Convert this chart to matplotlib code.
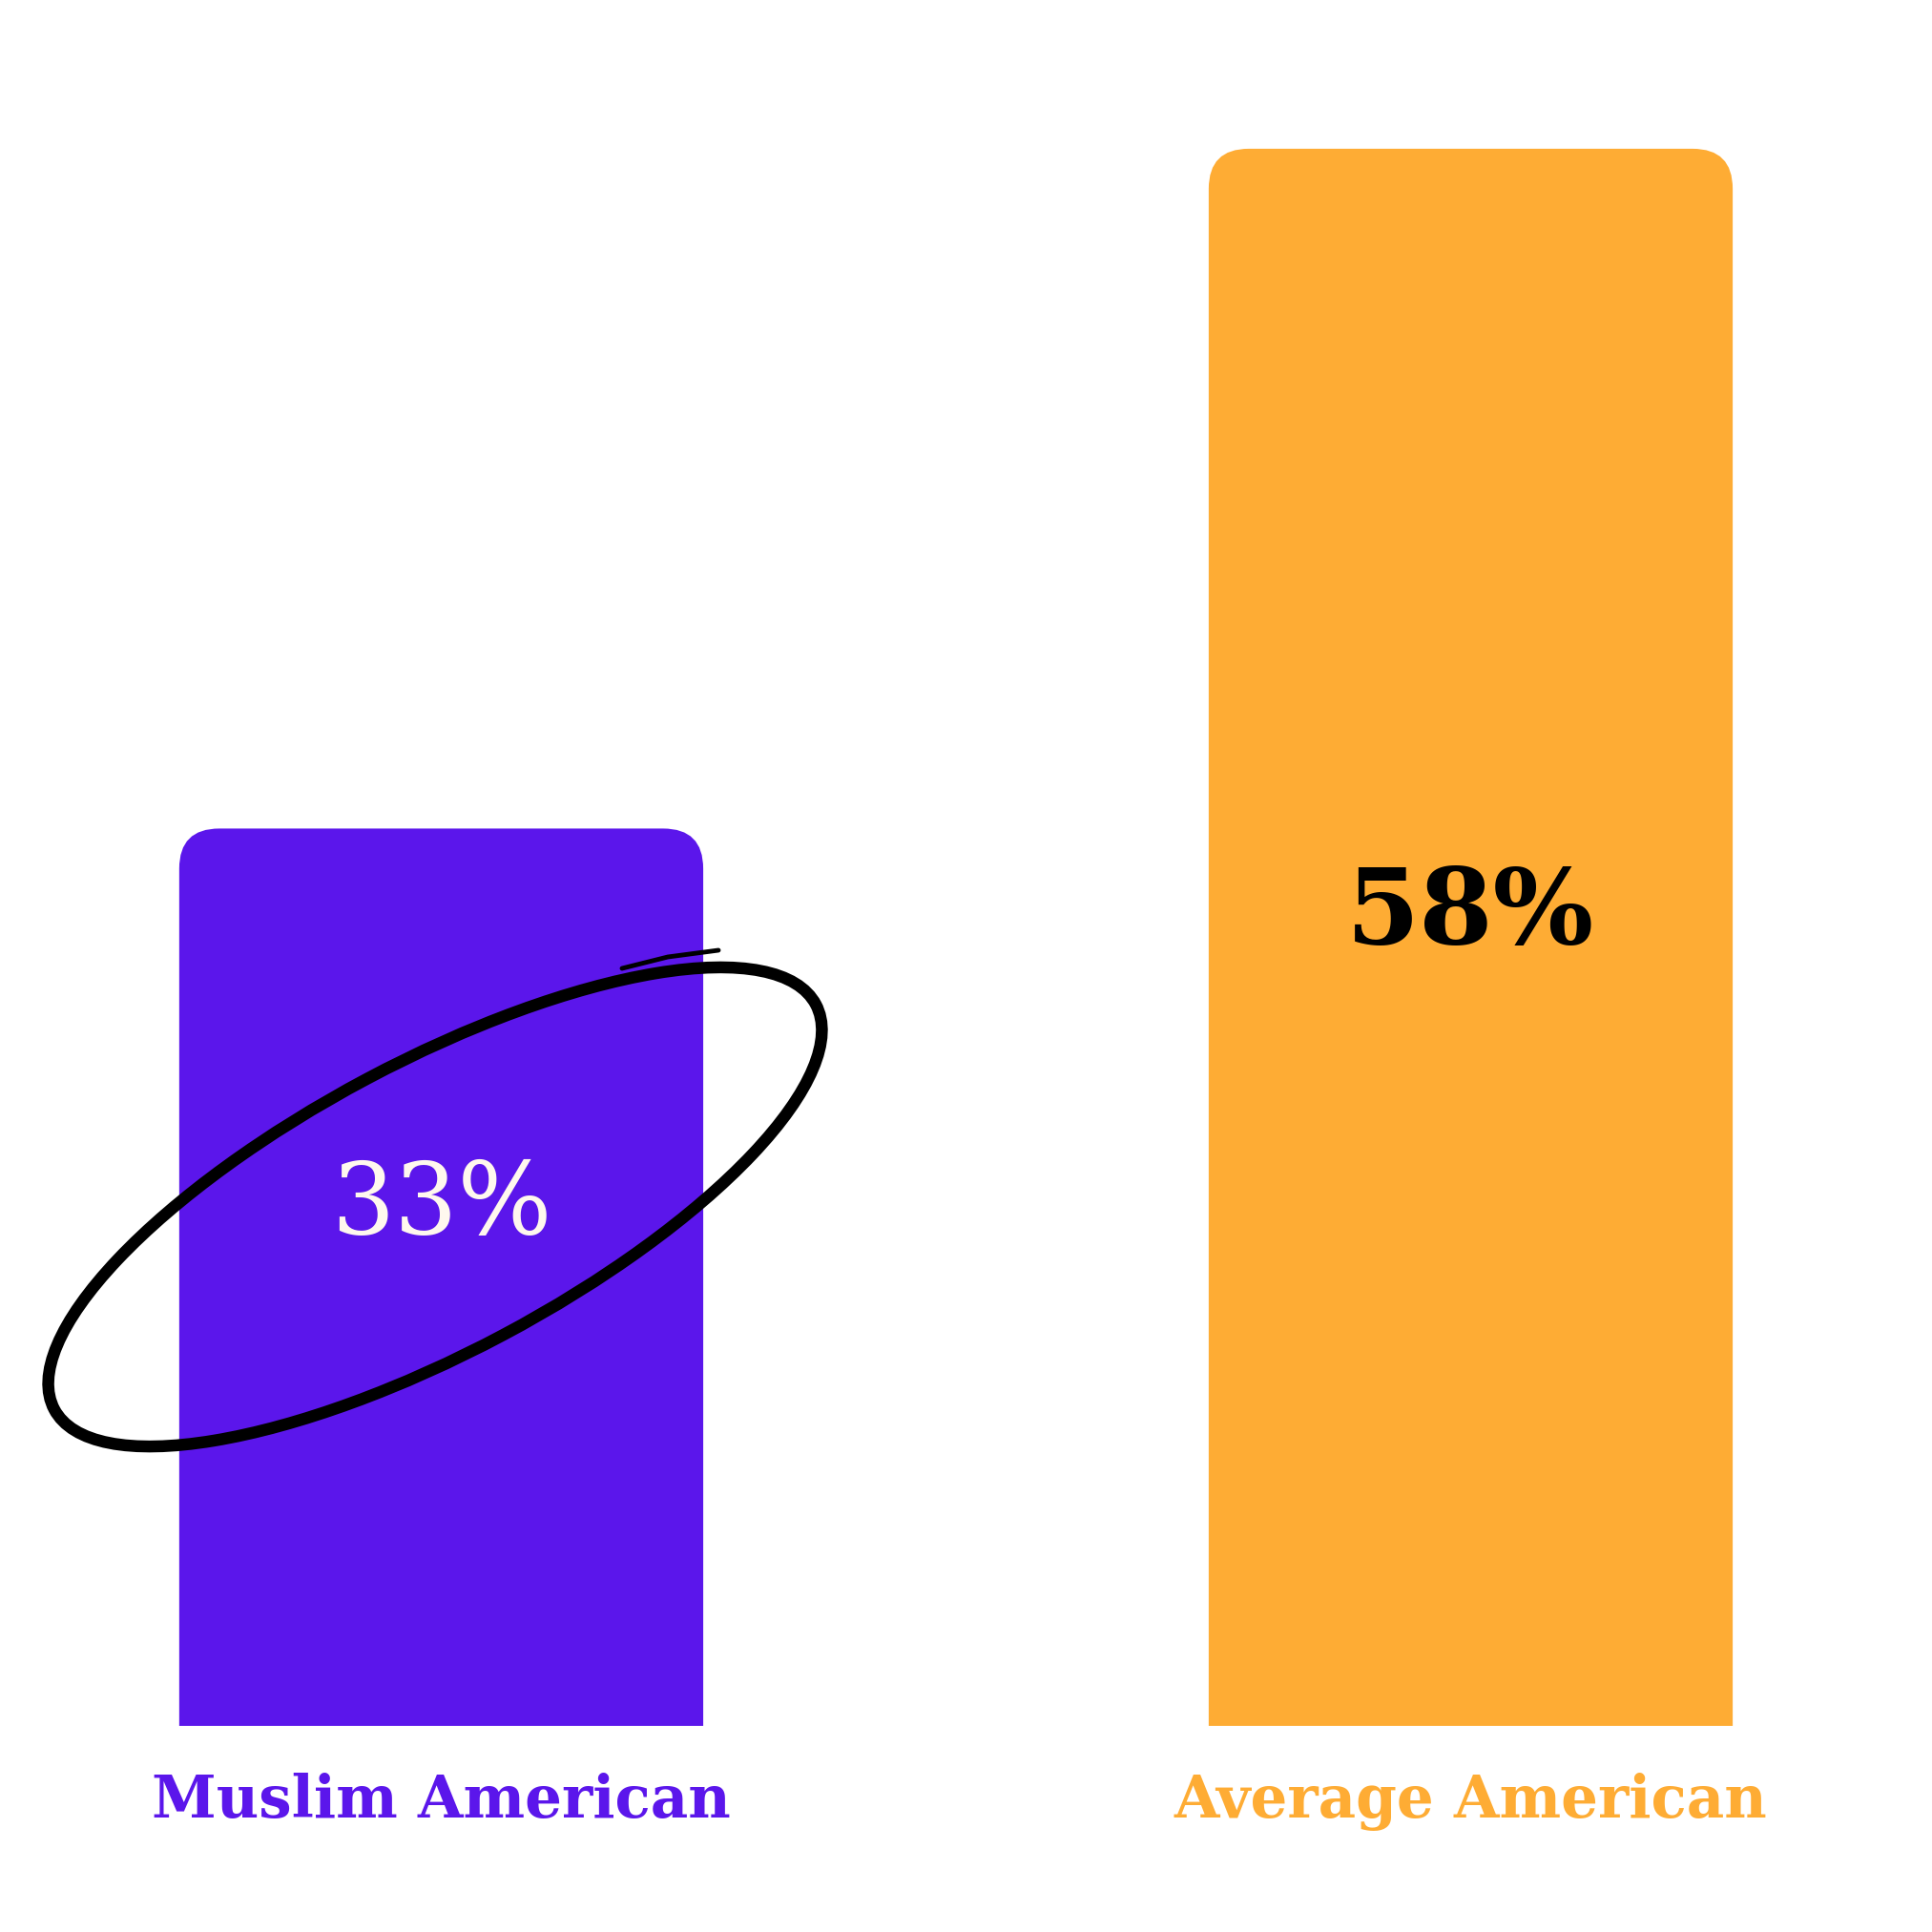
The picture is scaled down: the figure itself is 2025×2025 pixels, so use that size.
import numpy as np
import matplotlib
matplotlib.use("Agg")
import matplotlib.pyplot as plt
from matplotlib.path import Path
from matplotlib.patches import PathPatch, Ellipse

categories = ["Muslim American", "Average American"]
values = [33, 58]
value_labels = ["33%", "58%"]
bar_colors = ["#5B16EB", "#FEAC34"]
value_colors = ["#FFF8EE", "#000000"]

W = 2025


def rounded_top(x0, w, h, rx, ry):
    verts = [(x0, 0), (x0, h - ry), (x0, h), (x0 + rx, h),
             (x0 + w - rx, h), (x0 + w, h), (x0 + w, h - ry),
             (x0 + w, 0), (x0, 0)]
    codes = [Path.MOVETO, Path.LINETO, Path.CURVE3, Path.CURVE3,
             Path.LINETO, Path.CURVE3, Path.CURVE3,
             Path.LINETO, Path.CLOSEPOLY]
    return Path(verts, codes)


fig = plt.figure(figsize=(20.25, 20.25), dpi=100)
ax = fig.add_axes([0, 0, 1, 1])
ax.set_xlim(-0.4286, 1.4481)
ax.set_ylim(-7.58, 63.47)
ax.axis("off")

# corner radius ~42px, converted to data units
px_x = W / (1.4481 + 0.4286)
px_y = W / (63.47 + 7.58)
rx, ry = 42 / px_x, 42 / px_y

x = np.arange(len(categories))
width = 0.509
for xi, v, c in zip(x, values, bar_colors):
    ax.add_patch(PathPatch(rounded_top(xi - width / 2, width, v, rx, ry),
                           facecolor=c, edgecolor="none"))

# category labels under the bars
for xi, cat, c in zip(x, categories, bar_colors):
    ax.text(xi, -3.37, cat, ha="center", va="baseline", color=c,
            fontsize=44, fontweight="bold", family="DejaVu Serif")

# value labels inside the bars
value_y = [19.1, 29.85]
value_size = [75, 80]
value_weight = ["normal", "bold"]
for xi, yv, lab, c, fs, fw in zip(x, value_y, value_labels, value_colors,
                                  value_size, value_weight):
    ax.text(xi, yv, lab, ha="center", va="center", color=c,
            fontsize=fs, fontweight=fw, family="DejaVu Serif")

# hand-drawn style loop around the first bar's value
loop = Ellipse((456 / W, 1 - 1265 / W), 2 * 452 / W, 2 * 152 / W,
               angle=28, transform=fig.transFigure, fill=False,
               edgecolor="black", linewidth=9)
fig.add_artist(loop)
tail_x = np.array([652, 700, 753]) / W
tail_y = 1 - np.array([1015, 1003, 996]) / W
fig.add_artist(plt.Line2D(tail_x, tail_y, transform=fig.transFigure,
                          color="black", linewidth=3.5,
                          solid_capstyle="round"))

fig.savefig("out.png", dpi=100, facecolor="white")
